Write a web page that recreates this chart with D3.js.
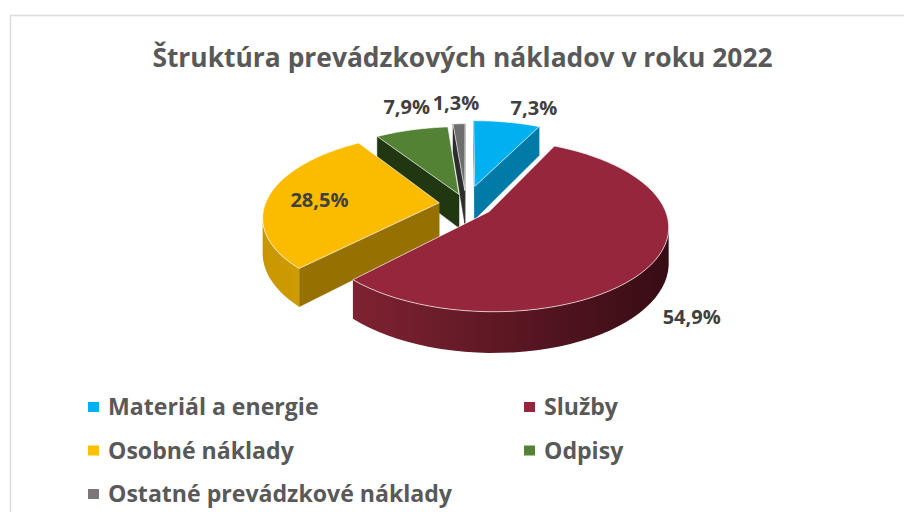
<!DOCTYPE html>
<html>
<head>
<meta charset="utf-8">
<script src="https://cdn.jsdelivr.net/npm/d3@7"></script>
<style>
  html, body { margin: 0; padding: 0; background: #fff; overflow: hidden; }
  text { font-family: "Open Sans", sans-serif; font-weight: 700; }
</style>
</head>
<body>
<div id="container"></div>
<script>
// chart data
let categories = ["Materiál a energie", "Služby", "Osobné náklady", "Odpisy", "Ostatné prevádzkové náklady"];
let values = [7.3, 54.9, 28.5, 7.9, 1.3];
let valueLabels = ["7,3%", "54,9%", "28,5%", "7,9%", "1,3%"];

// colours per slice
let topColors = ["#00b0f0", "#96263c", "#fbbc00", "#548235", "#6e6e6e"];
let wallColors = ["#007ba7", "#96263c", "#967000", "#203712", "#2d2d2d"];
let rimGradients = [["#007ba7", "#007ba7"], ["#7f2232", "#370c14"], ["#c89600", "#d9a400"], ["#203712", "#203712"], ["#2d2d2d", "#2d2d2d"]];
let legendColors = ["#00b0f0", "#96263c", "#ffc000", "#548235", "#7b7777"];
// how far each slice is pulled out of the pie
let explosion = [0.23, 0.16, 0.155, 0.126, 0.17];
// manual label offset from the rim point of each slice
let labelNudge = [[27, -14], [41, 52], [50, 5], [-5, -23], [-3, -21]];
// back to front
let drawOrder = [0, 4, 3, 2, 1];

let w = 904;
let h = 512;

let svg = d3.select("div#container").append("svg")
    .attr("width", w)
    .attr("height", h)
    .attr("viewBox", "0 0 " + w + " " + h);

// chart frame, runs off the picture on the right and at the bottom
svg.append("rect")
    .attr("x", 10.5).attr("y", 15.5)
    .attr("width", w + 20).attr("height", h)
    .attr("fill", "#fff")
    .attr("stroke", "#dcdcdc")
    .attr("stroke-width", 1.5);

svg.append("text")
    .attr("x", 462.5).attr("y", 67)
    .attr("text-anchor", "middle")
    .attr("font-size", 26.4)
    .attr("fill", "#595959")
    .text("Štruktúra prevádzkových nákladov v roku 2022");

/*
 perspective projection of the pie: y is depth, far side is smaller
 */
let cx = 466, cy = 204, rx = 174, ry = 81.4, persp = 0.16, thick = 34;

let project = (a, r, m, e, z) => {
    let X = r * Math.sin(a) + e * Math.sin(m);
    let Y = r * Math.cos(a) + e * Math.cos(m);
    let s = 1 / (1 + persp * Y);
    return [cx + X * rx * s, cy - Y * ry * s + z * thick * s];
};

let line = d3.line();

let slices = d3.pie().sort(null).value(d => d)(values);
let defs = svg.append("defs");
let pieG = svg.append("g");

drawOrder.forEach(i => {
    let d = slices[i];
    let e = explosion[i];
    let m = (d.startAngle + d.endAngle) / 2;
    let angles = d3.range(0, 61).map(k => d.startAngle + (d.endAngle - d.startAngle) * k / 60);
    let rimTop = angles.map(a => project(a, 1, m, e, 0));
    let rimBottom = angles.map(a => project(a, 1, m, e, 1));
    let apexTop = project(0, 0, m, e, 0);
    let apexBottom = project(0, 0, m, e, 1);
    let inner = project(m, 0.5, m, e, 0);

    // gradient for the curved wall
    let xs = rimTop.map(p => p[0]);
    let grad = defs.append("linearGradient")
        .attr("id", "rim" + i)
        .attr("gradientUnits", "userSpaceOnUse")
        .attr("x1", d3.min(xs)).attr("x2", d3.max(xs))
        .attr("y1", 0).attr("y2", 0);
    grad.append("stop").attr("offset", 0).attr("stop-color", rimGradients[i][0]);
    grad.append("stop").attr("offset", 1).attr("stop-color", rimGradients[i][1]);

    // flat cut walls: visible when the slice lies above the cut edge on screen
    [0, 60].forEach(k => {
        let ex = rimTop[k][0] - apexTop[0], ey = rimTop[k][1] - apexTop[1];
        let vx = inner[0] - apexTop[0], vy = inner[1] - apexTop[1];
        if (ex * (ex * vy - ey * vx) < 0) {
            pieG.append("path")
                .attr("d", line([rimTop[k], rimBottom[k], apexBottom, apexTop]) + "Z")
                .attr("fill", wallColors[i])
                .attr("stroke", wallColors[i])
                .attr("stroke-width", 0.5);
        }
    });

    // curved wall, only where the rim runs right to left on screen
    let front = angles.filter(a => project(a + 0.01, 1, m, e, 0)[0] < project(a, 1, m, e, 0)[0]);
    if (front.length > 1) {
        let q = front.map(a => project(a, 1, m, e, 0)).concat(front.slice().reverse().map(a => project(a, 1, m, e, 1)));
        pieG.append("path")
            .attr("d", line(q) + "Z")
            .attr("fill", "url(#rim" + i + ")");
    }

    // top face
    pieG.append("path")
        .attr("d", line([apexTop].concat(rimTop)) + "Z")
        .attr("fill", topColors[i])
        .attr("stroke", "#fff")
        .attr("stroke-opacity", 0.65)
        .attr("stroke-width", 1)
        .attr("stroke-linejoin", "round");
});

// value labels
slices.forEach((d, i) => {
    let m = (d.startAngle + d.endAngle) / 2;
    let p = project(m, 1, m, explosion[i], 0);
    svg.append("text")
        .attr("x", p[0] + labelNudge[i][0])
        .attr("y", p[1] + labelNudge[i][1])
        .attr("dy", "0.35em")
        .attr("text-anchor", "middle")
        .attr("font-size", 20)
        .attr("fill", "#404040")
        .text(valueLabels[i]);
});

// legend, two columns
let legendX = d3.scaleOrdinal().domain([0, 1]).range([88, 524]);
let legendY = d3.scalePoint().domain([0, 1, 2]).range([407, 494]);

let legend = svg.selectAll("g.legendItem")
    .data(categories)
    .enter()
    .append("g")
    .attr("class", "legendItem")
    .attr("transform", (c, i) => "translate(" + legendX(i % 2) + "," + legendY(Math.floor(i / 2)) + ")");
legend.append("rect")
    .attr("x", 0).attr("y", -5)
    .attr("width", 11).attr("height", 10)
    .attr("fill", (c, i) => legendColors[i]);
legend.append("text")
    .attr("x", 20)
    .attr("dy", "0.35em")
    .attr("font-size", 23.1)
    .attr("fill", "#595959")
    .text(c => c);
</script>
</body>
</html>
